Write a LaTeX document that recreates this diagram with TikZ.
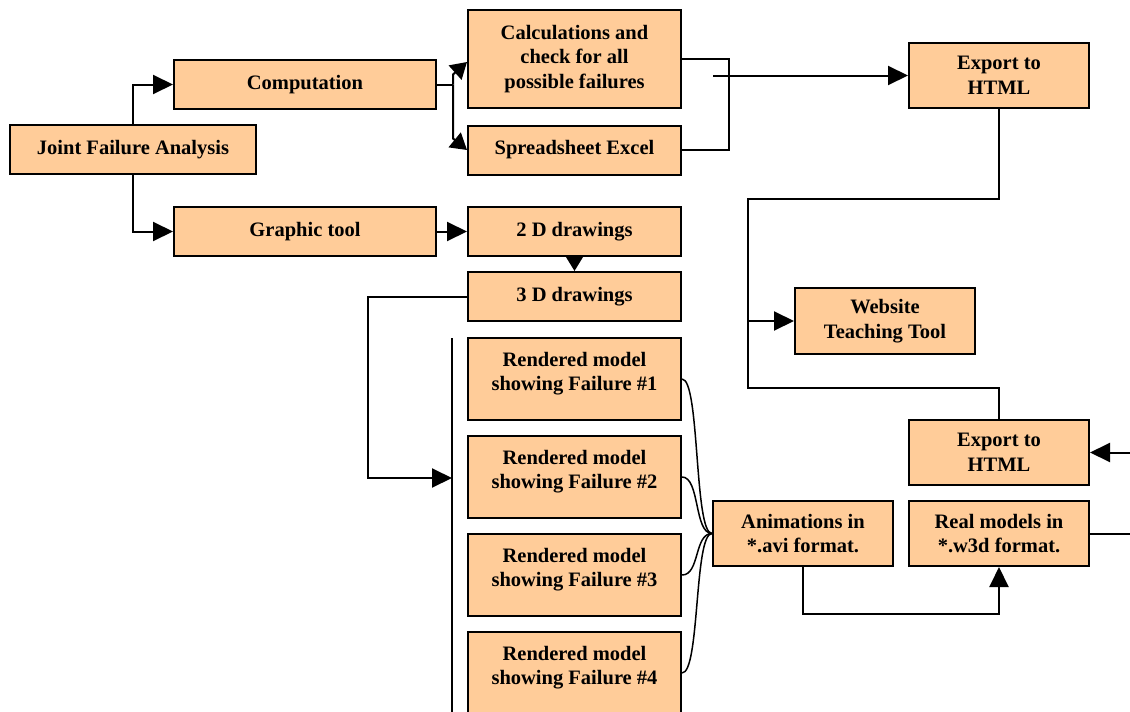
\documentclass[tikz,border=0pt]{standalone}
\usepackage{fontspec}
\setmainfont{Liberation Serif}
\usetikzlibrary{arrows.meta}
\definecolor{peach}{RGB}{255,204,153}
\tikzset{
  box/.style={draw, fill=peach, line width=2pt, inner sep=0pt, align=center,
    font=\bfseries\fontsize{20.5}{24.5}\selectfont},
  wide/.style={minimum width=262, minimum height=49},
  mid/.style={minimum width=213, minimum height=49},
  rbox/.style={minimum width=213, minimum height=82, text depth=15pt},
  small/.style={minimum width=180, minimum height=65},
  wire/.style={line width=2pt},
  arr/.style={wire, -{Triangle[length=20pt,width=19pt]}},
  shortarr/.style={wire, -{Triangle[length=16pt,width=19pt]}}
}
\begin{document}
\begin{tikzpicture}[x=1pt,y=-1pt]
        \useasboundingbox (0,0) rectangle (1130,712);
        \clip (0,0) rectangle (1130,712);
        \node[box, minimum width=246, minimum height=49] (jfa) at (133,149.5) {Joint Failure Analysis};
        \node[box, wide] (comp) at (305,84.5) {Computation};
        \node[box, wide] (graph) at (305,231.5) {Graphic tool};
        \node[box, minimum width=213, minimum height=98] (calc) at (574.5,59) {Calculations and\\check for all\\possible failures};
        \node[box, mid] (excel) at (574.5,150) {Spreadsheet Excel};
        \node[box, mid] (twod) at (574.5,231.5) {2 D drawings};
        \node[box, mid] (threed) at (574.5,296.5) {3 D drawings};
        \foreach \i/\y in {1/379,2/477,3/575,4/673}
          \node[box, rbox] (r\i) at (574.5,\y) {Rendered model\\showing Failure \#\i};
        \node[box, small] (exptop) at (999,75.5) {Export to\\HTML};
        \node[box, small, minimum height=66] (web) at (885,321) {Website\\Teaching Tool};
        \node[box, small] (expbot) at (999,452.5) {Export to\\HTML};
        \node[box, small] (anim) at (803,533.5) {Animations in\\*.avi format.};
        \node[box, small] (real) at (999,533.5) {Real models in\\*.w3d format.};
        \coordinate (tap) at (713,75.5);
        \coordinate (bustop) at (452,338);
        \coordinate (busbot) at (452,716);
        \coordinate (busin) at (452,478);
        \coordinate (webtap) at (748,321);
        \coordinate (outR) at (1134,533.5);
        \coordinate (inR) at (1134,452.5);
        % computation branch
        \draw[arr] (jfa.north) |- (comp.west);
        \draw[arr] (jfa.south) |- (graph.west);
        \draw[wire] (comp.east) -- ++(16,0) coordinate (split);
        \draw[shortarr] (split) -- ++(0,-10) -- ([yshift=-3pt]calc.west);
        \draw[shortarr] (split) -- ++(0,54) -- (excel.west);
        \draw[wire] (calc.east) -- ++(47,0) |- (excel.east);
        \draw[arr] (tap) -- (exptop.west);
        % graphic branch
        \draw[arr] (graph.east) -- (twod.west);
        \draw[shortarr] (twod.south) -- (threed.north);
        \draw[wire] (bustop) -- (busbot);
        \draw[arr] (threed.west) -- ++(-99,0) |- (busin);
        \foreach \i in {1,...,4}
          \draw[line width=1.5pt] (r\i.east) .. controls +(18,0) and +(-18,0) .. (anim.west);
        \draw[arr] (anim.south) -- ++(0,47) -| (real.south);
        \draw[wire] (real.east) -- (outR);
        \draw[arr] (inR) -- (expbot.east);
        % website
        \draw[wire] (exptop.south) -- ++(0,90) -| ++(-251,189) -| (expbot.north);
        \draw[arr] (webtap) -- (web.west);
\end{tikzpicture}
\end{document}
